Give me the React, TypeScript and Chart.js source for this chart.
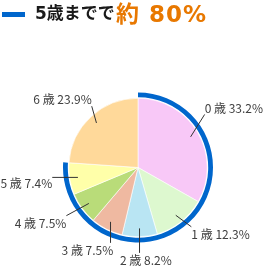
import React, { useEffect, useRef } from "react";
import { Chart, registerables } from "chart.js";

Chart.register(...registerables);

// ---- data ----
const categories = ["0 歳", "1 歳", "2 歳", "3 歳", "4 歳", "5 歳", "6 歳"];
const shares = [33.2, 12.3, 8.2, 7.5, 7.5, 7.4, 23.9];
const sliceColors = ["#F8C8F7", "#DDF8CF", "#B9E5F3", "#EFB9A1", "#B9DC79", "#FFFFA9", "#FFD99A"];
const highlightCount = 6; // 0〜5歳
const titleLead = "5歳までで";
const titleValue = "約 80%";

// ---- styles ----
const RING_COLOR = "#0066CC";
const ORANGE = "#E87800";
const LABEL_FONT = '12px "Noto Sans CJK JP", "Noto Sans", sans-serif';
// fine placement tweaks for the data labels (px)
const labelShiftX = [-1, 13, 5, 0, -7, -1, 1];
const labelShiftY = [-13, -7, -1, -1, 0, 0, 0];

const highlightTotal = shares.slice(0, highlightCount).reduce((a, b) => a + b, 0);
const restTotal = shares.slice(highlightCount).reduce((a, b) => a + b, 0);

const decoPlugin = {
  id: "deco",
  afterDatasetsDraw(chart: any) {
    const ctx = chart.ctx as CanvasRenderingContext2D;
    const meta = chart.getDatasetMeta(2);
    ctx.save();
    ctx.font = LABEL_FONT;
    ctx.textAlign = "center";
    ctx.textBaseline = "middle";
    meta.data.forEach((arc: any, i: number) => {
      const p = arc.getProps(["x", "y", "startAngle", "endAngle", "outerRadius"], true);
      const r = p.outerRadius;
      const mid = (p.startAngle + p.endAngle) / 2;
      const text = `${categories[i]} ${shares[i].toFixed(1)}%`;
      const w = ctx.measureText(text).width;
      const h = 14;
      const cx = p.x + 1.62 * r * Math.cos(mid) + labelShiftX[i];
      const cy = p.y + 1.35 * r * Math.sin(mid) + labelShiftY[i];
      const x0 = cx - w / 2, x1 = cx + w / 2, y0 = cy - h / 2, y1 = cy + h / 2;
      const sx = p.x + 0.88 * r * Math.cos(mid);
      const sy = p.y + 0.88 * r * Math.sin(mid);
      const ex = Math.min(Math.max(sx, x0), x1);
      const ey = Math.min(Math.max(sy, y0), y1);
      ctx.strokeStyle = "#333333";
      ctx.lineWidth = 1;
      ctx.beginPath();
      ctx.moveTo(sx, sy);
      ctx.lineTo(ex, ey);
      ctx.stroke();
      ctx.fillStyle = "#404040";
      ctx.fillText(text, cx, cy + 0.5);
    });
    ctx.restore();

    // title
    ctx.save();
    ctx.fillStyle = RING_COLOR;
    ctx.fillRect(2, 12, 23, 5);
    ctx.textAlign = "left";
    ctx.textBaseline = "alphabetic";
    ctx.fillStyle = "#1A1A1A";
    ctx.font = 'bold 17px "DejaVu Sans", "Noto Sans CJK JP", sans-serif';
    ctx.fillText(titleLead, 35, 19);
    ctx.fillStyle = ORANGE;
    ctx.font = 'bold 23px "DejaVu Sans", "Noto Sans CJK JP", sans-serif';
    (ctx as any).letterSpacing = "1px";
    ctx.fillText(titleValue, 116, 21.5);
    ctx.restore();
  },
};

export default function App() {
  const ref = useRef<HTMLCanvasElement | null>(null);
  useEffect(() => {
    if (!ref.current) return;
    const chart = new Chart(ref.current, {
      type: "pie",
      data: {
        labels: categories,
        datasets: [
          {
            data: [highlightTotal, restTotal],
            backgroundColor: [RING_COLOR, "rgba(0,0,0,0)"],
            borderWidth: 0,
            weight: 4.8,
          } as any,
          {
            data: [1],
            backgroundColor: ["rgba(0,0,0,0)"],
            borderWidth: 0,
            weight: 1,
          } as any,
          {
            data: shares,
            backgroundColor: sliceColors,
            borderColor: "#FFFFFF",
            borderWidth: 0.6,
            weight: 69.2,
          } as any,
        ],
      },
      options: {
        responsive: false,
        animation: false,
        events: [],
        layout: { padding: { left: 63, right: 50, top: 92.5, bottom: 26.5 } },
        plugins: {
          legend: { display: false },
          tooltip: { enabled: false },
          title: { display: false },
        },
        elements: { arc: { hoverOffset: 0 } as any },
      } as any,
      plugins: [decoPlugin],
    });
    return () => chart.destroy();
  }, []);
  return (
    <div style={{ position: "fixed", left: 0, top: 0, width: 263, height: 269, background: "#fff" }}>
      <canvas ref={ref} width={263} height={269} style={{ width: 263, height: 269, display: "block" }} />
    </div>
  );
}
